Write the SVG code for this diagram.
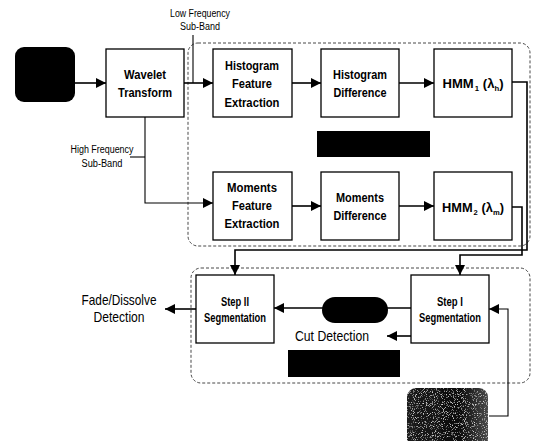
<svg xmlns="http://www.w3.org/2000/svg" width="533" height="441" viewBox="0 0 533 441">
  <defs>
    <marker id="arrow" viewBox="0 0 10 10" refX="10" refY="5" markerWidth="10" markerHeight="10" markerUnits="userSpaceOnUse" orient="auto">
      <path d="M0,0 L10,5 L0,10 Z" fill="#000"/>
    </marker>
    <linearGradient id="grainShade" x1="0" y1="0" x2="1" y2="0">
      <stop offset="0" stop-color="#1c1c1c"/>
      <stop offset="0.65" stop-color="#0c0c0c"/>
      <stop offset="1" stop-color="#4a4a4a"/>
    </linearGradient>
    <filter id="grain" x="0" y="0" width="100%" height="100%">
      <feTurbulence type="fractalNoise" baseFrequency="0.9" numOctaves="2" seed="3" result="noise"/>
      <feColorMatrix in="noise" type="matrix" values="0 0 0 0 0.7  0 0 0 0 0.7  0 0 0 0 0.7  0 0 0 4 -2.3" result="speck"/>
      <feComposite in="speck" in2="SourceGraphic" operator="in" result="speckIn"/>
      <feMerge>
        <feMergeNode in="SourceGraphic"/>
        <feMergeNode in="speckIn"/>
      </feMerge>
    </filter>
  </defs>
  <style>
    .box { fill: #fff; stroke: #000; stroke-width: 1.3; }
    .group { fill: none; stroke: #333; stroke-width: 0.9; stroke-dasharray: 3 2; }
    .wire { fill: none; stroke: #000; stroke-width: 1.6; }
    .thin { fill: none; stroke: #000; stroke-width: 1.1; }
    .arr { marker-end: url(#arrow); }
    .lbl { font-family: "Liberation Sans", Arial, sans-serif; font-weight: bold; font-size: 13.5px; text-anchor: middle; fill: #000; }
    .small { font-family: "Liberation Sans", Arial, sans-serif; font-size: 10px; text-anchor: middle; fill: #000; }
    .out { font-family: "Liberation Sans", Arial, sans-serif; font-size: 15px; text-anchor: middle; fill: #000; }
    .sub { font-size: 8px; }
  </style>

  <rect width="533" height="441" fill="#fff"/>

  <!-- dashed grouping frames -->
  <g id="frames">
    <rect class="group" x="188" y="43" width="342" height="203" rx="10"/>
    <rect class="group" x="191" y="268" width="339" height="115" rx="10"/>
  </g>

  <!-- connectors -->
  <g id="connectors">
    <line class="wire arr" x1="75" y1="83" x2="106" y2="83"/>
    <line class="wire arr" x1="184" y1="83" x2="213" y2="83"/>
    <line class="thin" x1="193" y1="35" x2="193" y2="83"/>
    <line class="wire arr" x1="292" y1="83" x2="321" y2="83"/>
    <line class="wire arr" x1="399" y1="83" x2="434" y2="83"/>
    <polyline class="wire arr" points="512,82 527,82 527,250 235,250 235,275"/>
    <polyline class="thin arr" points="145,117 145,203 213,203"/>
    <line class="thin" x1="130" y1="157" x2="145" y2="157"/>
    <line class="wire arr" x1="292" y1="206" x2="321" y2="206"/>
    <line class="wire arr" x1="399" y1="206" x2="434" y2="206"/>
    <polyline class="wire arr" points="512,207 522,207 522,255 460,255 460,275"/>
    <line class="wire arr" x1="411" y1="308" x2="274" y2="308"/>
    <line class="wire arr" x1="411" y1="336" x2="387" y2="336"/>
    <line class="wire arr" x1="196" y1="309" x2="165" y2="309"/>
    <polyline class="thin arr" points="489,416 508,416 508,309 489,309"/>
  </g>

  <!-- edge labels -->
  <g id="labels">
    <text class="small" x="200" y="17" textLength="60" lengthAdjust="spacingAndGlyphs">Low Frequency</text>
    <text class="small" x="200" y="30" textLength="40" lengthAdjust="spacingAndGlyphs">Sub-Band</text>
    <text class="small" x="102" y="153" textLength="63" lengthAdjust="spacingAndGlyphs">High Frequency</text>
    <text class="small" x="102" y="167" textLength="41" lengthAdjust="spacingAndGlyphs">Sub-Band</text>
  </g>

  <g id="source">
    <rect x="15" y="47" width="60" height="55" rx="9" fill="#000"/>
  </g>

  <g id="wavelet">
    <rect class="box" x="106" y="49" width="78" height="68"/>
    <text class="lbl" x="145" y="79" textLength="42" lengthAdjust="spacingAndGlyphs">Wavelet</text>
    <text class="lbl" x="145" y="97" textLength="54" lengthAdjust="spacingAndGlyphs">Transform</text>
  </g>

  <g id="hist-feature">
    <rect class="box" x="213" y="49" width="79" height="68"/>
    <text class="lbl" x="252" y="70" textLength="54" lengthAdjust="spacingAndGlyphs">Histogram</text>
    <text class="lbl" x="252" y="88" textLength="40" lengthAdjust="spacingAndGlyphs">Feature</text>
    <text class="lbl" x="252" y="107" textLength="55" lengthAdjust="spacingAndGlyphs">Extraction</text>
  </g>

  <g id="hist-diff">
    <rect class="box" x="321" y="49" width="78" height="68"/>
    <text class="lbl" x="360" y="79" textLength="54" lengthAdjust="spacingAndGlyphs">Histogram</text>
    <text class="lbl" x="360" y="97" textLength="53" lengthAdjust="spacingAndGlyphs">Difference</text>
  </g>

  <g id="hmm1">
    <rect class="box" x="434" y="49" width="78" height="68"/>
    <text class="lbl" x="473" y="88" textLength="61" lengthAdjust="spacingAndGlyphs">HMM<tspan class="sub" dx="1" dy="3">1</tspan><tspan dx="4" dy="-3">(λ</tspan><tspan class="sub" dy="3">h</tspan><tspan dy="-3">)</tspan></text>
  </g>

  <g id="redacted-1">
    <rect x="317" y="131" width="113" height="26" fill="#000"/>
  </g>

  <g id="mom-feature">
    <rect class="box" x="213" y="172" width="79" height="68"/>
    <text class="lbl" x="252" y="192" textLength="50" lengthAdjust="spacingAndGlyphs">Moments</text>
    <text class="lbl" x="252" y="210" textLength="40" lengthAdjust="spacingAndGlyphs">Feature</text>
    <text class="lbl" x="252" y="228" textLength="55" lengthAdjust="spacingAndGlyphs">Extraction</text>
  </g>

  <g id="mom-diff">
    <rect class="box" x="321" y="172" width="78" height="68"/>
    <text class="lbl" x="360" y="202" textLength="48" lengthAdjust="spacingAndGlyphs">Moments</text>
    <text class="lbl" x="360" y="220" textLength="53" lengthAdjust="spacingAndGlyphs">Difference</text>
  </g>

  <g id="hmm2">
    <rect class="box" x="434" y="172" width="78" height="68"/>
    <text class="lbl" x="473" y="212" textLength="62" lengthAdjust="spacingAndGlyphs">HMM<tspan class="sub" dx="1" dy="3">2</tspan><tspan dx="4" dy="-3">(λ</tspan><tspan class="sub" dy="3">m</tspan><tspan dy="-3">)</tspan></text>
  </g>

  <g id="step2">
    <rect class="box" x="196" y="275" width="78" height="68"/>
    <text class="lbl" x="235" y="306" font-size="12" textLength="28" lengthAdjust="spacingAndGlyphs">Step II</text>
    <text class="lbl" x="235" y="322" font-size="12" textLength="62" lengthAdjust="spacingAndGlyphs">Segmentation</text>
  </g>

  <g id="step1">
    <rect class="box" x="411" y="275" width="78" height="68"/>
    <text class="lbl" x="450" y="306" font-size="12" textLength="26" lengthAdjust="spacingAndGlyphs">Step I</text>
    <text class="lbl" x="450" y="322" font-size="12" textLength="62" lengthAdjust="spacingAndGlyphs">Segmentation</text>
  </g>

  <g id="threshold-pill">
    <rect x="322" y="297" width="66" height="26" rx="13" fill="#000"/>
  </g>

  <g id="cut-output">
    <text class="out" x="332" y="341" font-size="14" textLength="74" lengthAdjust="spacingAndGlyphs">Cut Detection</text>
  </g>

  <g id="redacted-2">
    <rect x="288" y="350" width="112" height="27" fill="#000"/>
  </g>

  <g id="fade-output">
    <text class="out" x="119" y="305" textLength="75" lengthAdjust="spacingAndGlyphs">Fade/Dissolve</text>
    <text class="out" x="119" y="322" textLength="51" lengthAdjust="spacingAndGlyphs">Detection</text>
  </g>

  <g id="side-input">
    <rect x="407" y="388" width="81" height="60" rx="9" fill="url(#grainShade)" filter="url(#grain)"/>
  </g>
</svg>
